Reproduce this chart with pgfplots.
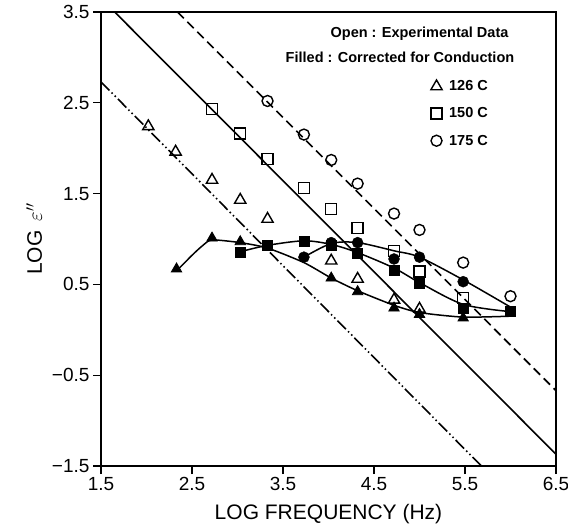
\documentclass[border=0pt]{standalone}
\usepackage{fontspec}
\setmainfont{Liberation Sans}
\usepackage{pgfplots}
\pgfplotsset{compat=1.18}
\begin{document}
\begin{tikzpicture}
\begin{axis}[
  scale only axis, width=455pt, height=454pt,
  xmin=1.5, xmax=6.5, ymin=-1.5, ymax=3.5,
  xtick={1.5,2.5,3.5,4.5,5.5,6.5},
  xticklabels={1.5,2.5,3.5,4.5,5.5,6.5},
  ytick={-1.5,-0.5,0.5,1.5,2.5,3.5},
  yticklabels={−1.5,−0.5,0.5,1.5,2.5,3.5},
  xtick pos=bottom, ytick pos=left, tick align=outside,
  major tick length=8pt,
  axis line style={line width=1.6pt},
  every tick/.style={line width=1.4pt, black},
  tick label style={font=\fontsize{19}{19}\selectfont},
  xlabel={LOG FREQUENCY (Hz)},
  ylabel={LOG \,$\varepsilon''$},
  label style={font=\fontsize{21}{21}\selectfont},
  xlabel style={yshift=-6pt},
  ylabel style={yshift=3pt},
  clip=false,
  legend style={draw=none, fill=none, at={(rel axis cs:0.718,0.858)}, anchor=north west,
    font=\fontsize{14.5}{14.5}\selectfont\bfseries, row sep=11.5pt},
  legend cell align=left,
]
% conduction lines
\addplot[forget plot, line width=1.6pt, dash pattern=on 12pt off 3pt on 1.5pt off 3pt on 1.5pt off 3pt] coordinates {(1.5,2.73) (5.68,-1.5)};
\addplot[forget plot, line width=1.6pt] coordinates {(1.65,3.5) (6.5,-1.37)};
\addplot[forget plot, line width=1.6pt, dash pattern=on 9pt off 5pt] coordinates {(2.34,3.5) (6.5,-0.67)};
% fitted curves through corrected data
\addplot[forget plot, line width=1.5pt, smooth, tension=0.4] coordinates {(2.33,0.65) (2.42,0.74) (2.52,0.84) (2.62,0.93) (2.72,0.99) (3.03,0.96) (3.33,0.90) (3.73,0.74) (4.03,0.57) (4.32,0.43) (4.72,0.27) (5.0,0.19) (5.48,0.14) (6.0,0.15)};
\addplot[forget plot, line width=1.5pt, smooth, tension=0.5] coordinates {(3.03,0.86) (3.33,0.93) (3.73,0.98) (4.03,0.94) (4.32,0.85) (4.72,0.68) (5.0,0.52) (5.48,0.28) (6.0,0.2)};
\addplot[forget plot, line width=1.5pt, smooth, tension=0.5] coordinates {(3.73,0.80) (4.03,0.95) (4.32,0.96) (4.72,0.87) (5.0,0.80) (5.48,0.55) (6.0,0.25)};
% filled (corrected)
\addplot[forget plot, only marks, mark=triangle*, mark size=6pt, mark options={fill=black, draw=black, line width=0.8pt}] coordinates {(2.33,0.67) (2.72,1.01) (3.03,0.97) (4.03,0.57) (4.32,0.42) (4.72,0.24) (5.0,0.17) (5.48,0.13)};
\addplot[forget plot, only marks, mark=*, mark size=5.5pt, mark options={fill=black, draw=black}] coordinates {(3.73,0.80) (4.03,0.96) (4.32,0.96) (4.72,0.78) (5.0,0.80) (5.48,0.53)};
\addplot[forget plot, only marks, mark=square*, mark size=5pt, mark options={fill=black, draw=black}] coordinates {(3.03,0.86) (3.33,0.93) (3.73,0.98) (4.03,0.93) (4.32,0.84) (4.72,0.66) (5.0,0.51) (5.48,0.24) (6.0,0.2)};
% open (experimental)
\addplot[only marks, mark=triangle, mark size=6.5pt, mark options={solid, draw=black, fill=none, line width=1.4pt}] coordinates {(2.02,2.24) (2.32,1.96) (2.72,1.65) (3.03,1.43) (3.33,1.22) (4.03,0.76) (4.32,0.56) (4.72,0.33) (5.0,0.23)};
\addlegendentry{\hspace*{5pt}126 C}
\addplot[only marks, mark=square, mark size=5.5pt, mark options={solid, draw=black, fill=none, line width=1.4pt}] coordinates {(2.72,2.43) (3.03,2.16) (3.33,1.88) (3.73,1.56) (4.03,1.33) (4.32,1.12) (4.72,0.87) (5.0,0.64) (5.48,0.35)};
\addlegendentry{\hspace*{5pt}150 C}
\addplot[only marks, mark=o, mark size=5.5pt, mark options={solid, draw=black, fill=none, line width=1.4pt}] coordinates {(3.33,2.52) (3.73,2.15) (4.03,1.87) (4.32,1.61) (4.72,1.28) (5.0,1.10) (5.48,0.74) (6.0,0.37)};
\addlegendentry{\hspace*{5pt}175 C}
\node[anchor=east, font=\fontsize{14.5}{14.5}\selectfont\bfseries] at (axis cs:6.016,3.26) {Open : Experimental Data};
\node[anchor=east, font=\fontsize{14.5}{14.5}\selectfont\bfseries] at (axis cs:6.08,3.0) {Filled : Corrected for Conduction};
\end{axis}
\pgfresetboundingbox
\path[use as bounding box] ([shift={(-101pt,-63pt)}]current axis.south west) rectangle ([shift={(12pt,12pt)}]current axis.north east);
\end{tikzpicture}
\end{document}
